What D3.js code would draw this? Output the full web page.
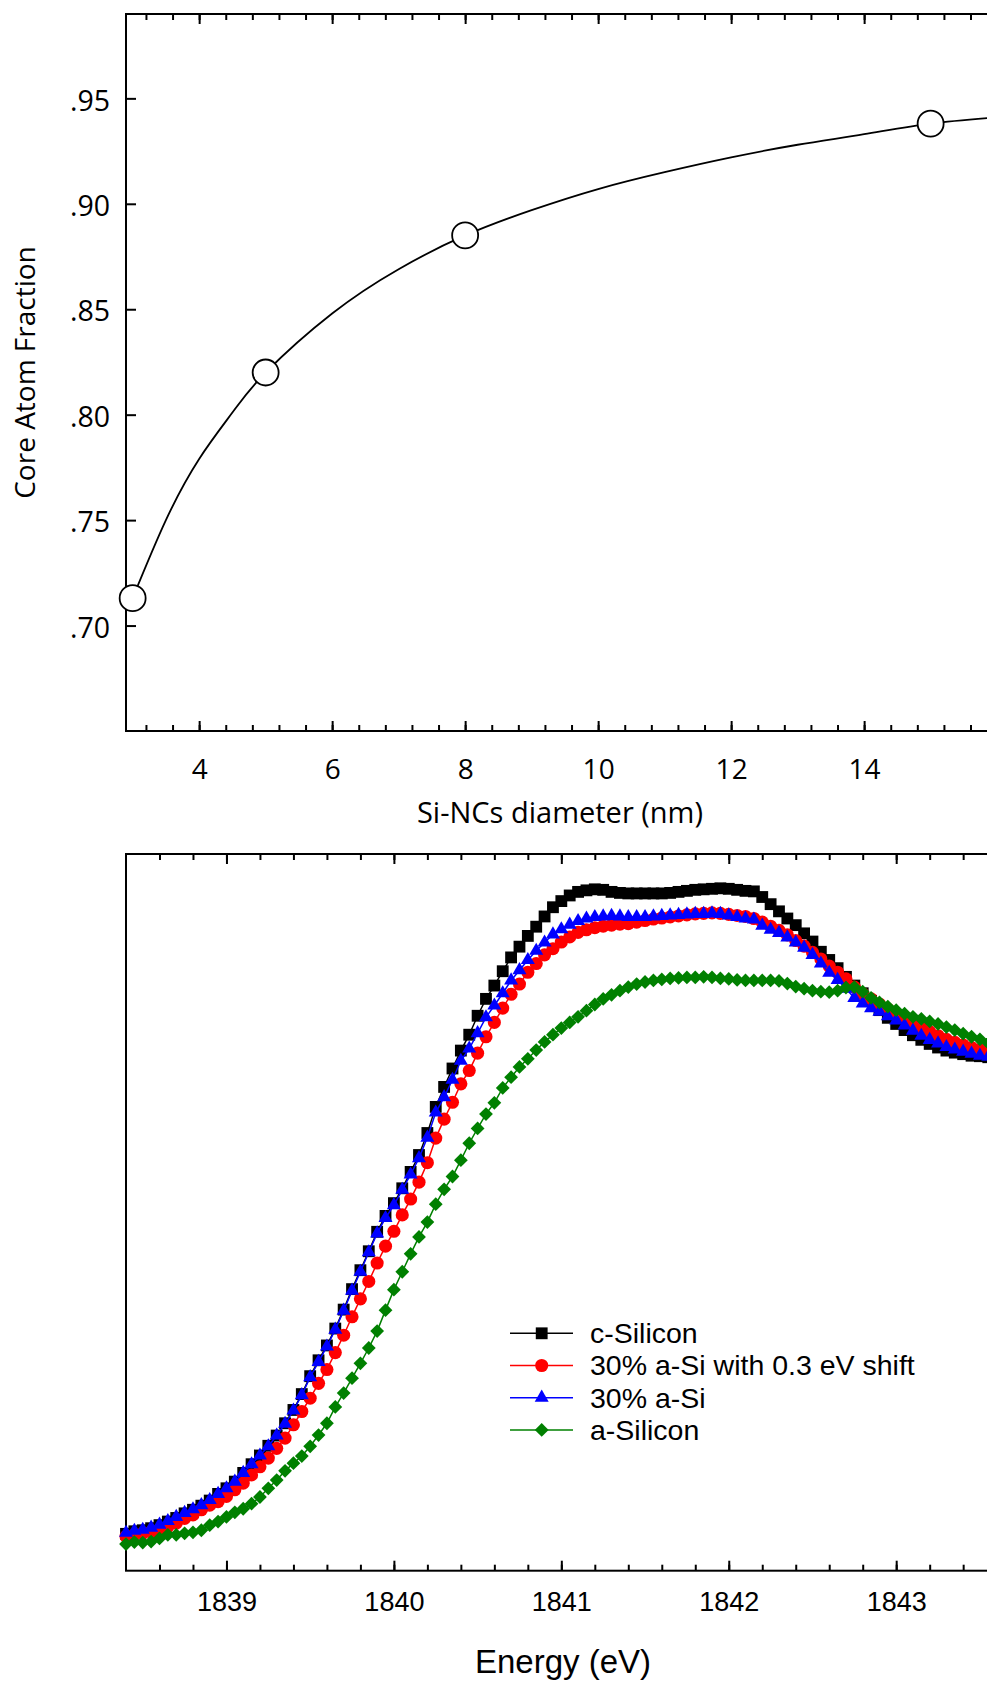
<!DOCTYPE html>
<html>
<head>
<meta charset="utf-8">
<script src="https://cdn.jsdelivr.net/npm/d3@7"></script>
<style>
    body { margin: 0; background: #fff; }
    svg { display: block; }
</style>
</head>
<body>
<div id="chart"></div>
<script>
// ---- top panel: core atom fraction vs nanocrystal size ----
var diameters = [3, 5, 8, 15];
var coreFraction = [0.713, 0.820, 0.885, 0.938];

// fitted curve
var fitDiameters = [3, 3.5, 4, 4.5, 5, 6, 7, 8, 9, 10, 11, 12, 13, 14, 15, 16];
var fitFraction = [0.713, 0.750, 0.779, 0.801, 0.820, 0.848, 0.869, 0.885,
                   0.897, 0.907, 0.915, 0.922, 0.928, 0.933, 0.938, 0.941];

var diameterTicks = [4, 6, 8, 10, 12, 14];
var fractionTicks = [0.70, 0.75, 0.80, 0.85, 0.90, 0.95];

// ---- bottom panel: Si K-edge spectra ----
var energy = [
    1838.40, 1838.45, 1838.50, 1838.55, 1838.60, 1838.65, 1838.70, 1838.75, 1838.80, 1838.85,
    1838.90, 1838.95, 1839.00, 1839.05, 1839.10, 1839.15, 1839.20, 1839.25, 1839.30, 1839.35,
    1839.40, 1839.45, 1839.50, 1839.55, 1839.60, 1839.65, 1839.70, 1839.75, 1839.80, 1839.85,
    1839.90, 1839.95, 1840.00, 1840.05, 1840.10, 1840.15, 1840.20, 1840.25, 1840.30, 1840.35,
    1840.40, 1840.45, 1840.50, 1840.55, 1840.60, 1840.65, 1840.70, 1840.75, 1840.80, 1840.85,
    1840.90, 1840.95, 1841.00, 1841.05, 1841.10, 1841.15, 1841.20, 1841.25, 1841.30, 1841.35,
    1841.40, 1841.45, 1841.50, 1841.55, 1841.60, 1841.65, 1841.70, 1841.75, 1841.80, 1841.85,
    1841.90, 1841.95, 1842.00, 1842.05, 1842.10, 1842.15, 1842.20, 1842.25, 1842.30, 1842.35,
    1842.40, 1842.45, 1842.50, 1842.55, 1842.60, 1842.65, 1842.70, 1842.75, 1842.80, 1842.85,
    1842.90, 1842.95, 1843.00, 1843.05, 1843.10, 1843.15, 1843.20, 1843.25, 1843.30, 1843.35,
    1843.40, 1843.45, 1843.50, 1843.55, 1843.60
];

var cSilicon = [
    0.072, 0.077, 0.079, 0.083, 0.089, 0.096, 0.103, 0.112, 0.119, 0.127,
    0.137, 0.150, 0.161, 0.174, 0.191, 0.208, 0.225, 0.244, 0.264, 0.288,
    0.314, 0.345, 0.380, 0.411, 0.440, 0.473, 0.510, 0.550, 0.587, 0.624,
    0.662, 0.693, 0.718, 0.747, 0.779, 0.812, 0.855, 0.906, 0.945, 0.981,
    1.016, 1.047, 1.084, 1.117, 1.143, 1.171, 1.198, 1.219, 1.240, 1.258,
    1.278, 1.296, 1.308, 1.319, 1.326, 1.329, 1.331, 1.330, 1.326, 1.324,
    1.323, 1.323, 1.323, 1.323, 1.323, 1.324, 1.326, 1.328, 1.330, 1.331,
    1.332, 1.333, 1.332, 1.330, 1.328, 1.327, 1.316, 1.302, 1.288, 1.274,
    1.261, 1.245, 1.229, 1.209, 1.193, 1.177, 1.160, 1.143, 1.128, 1.113,
    1.095, 1.080, 1.068, 1.056, 1.046, 1.037, 1.029, 1.022, 1.016, 1.012,
    1.009, 1.006, 1.005, 1.003, 1.002
];

var aSiShifted = [
    0.067, 0.070, 0.073, 0.076, 0.080, 0.086, 0.093, 0.102, 0.109, 0.119,
    0.128, 0.135, 0.145, 0.158, 0.171, 0.187, 0.203, 0.220, 0.239, 0.259,
    0.285, 0.311, 0.337, 0.366, 0.393, 0.426, 0.460, 0.496, 0.531, 0.565,
    0.601, 0.634, 0.663, 0.695, 0.726, 0.759, 0.797, 0.845, 0.882, 0.915,
    0.951, 0.977, 1.011, 1.043, 1.071, 1.099, 1.126, 1.146, 1.169, 1.186,
    1.203, 1.215, 1.228, 1.238, 1.247, 1.252, 1.256, 1.259, 1.261, 1.263,
    1.264, 1.267, 1.270, 1.273, 1.275, 1.277, 1.279, 1.281, 1.283, 1.284,
    1.285, 1.284, 1.282, 1.280, 1.278, 1.274, 1.267, 1.259, 1.251, 1.242,
    1.231, 1.220, 1.208, 1.195, 1.181, 1.169, 1.156, 1.140, 1.127, 1.117,
    1.107, 1.097, 1.088, 1.079, 1.070, 1.061, 1.053, 1.045, 1.038, 1.032,
    1.027, 1.022, 1.018, 1.014, 1.012
];

var aSi30 = [
    0.074, 0.078, 0.080, 0.084, 0.090, 0.097, 0.105, 0.113, 0.120, 0.128,
    0.138, 0.150, 0.161, 0.174, 0.191, 0.208, 0.225, 0.243, 0.264, 0.287,
    0.313, 0.343, 0.378, 0.408, 0.438, 0.471, 0.508, 0.547, 0.584, 0.622,
    0.659, 0.689, 0.714, 0.744, 0.774, 0.806, 0.846, 0.895, 0.925, 0.959,
    0.996, 1.020, 1.050, 1.081, 1.104, 1.128, 1.153, 1.173, 1.193, 1.211,
    1.227, 1.243, 1.253, 1.262, 1.269, 1.274, 1.277, 1.278, 1.279, 1.278,
    1.277, 1.277, 1.277, 1.278, 1.279, 1.280, 1.281, 1.282, 1.283, 1.283,
    1.284, 1.283, 1.280, 1.277, 1.274, 1.272, 1.260, 1.252, 1.246, 1.237,
    1.227, 1.217, 1.203, 1.186, 1.168, 1.154, 1.137, 1.119, 1.108, 1.099,
    1.092, 1.083, 1.075, 1.065, 1.055, 1.045, 1.037, 1.030, 1.023, 1.018,
    1.014, 1.010, 1.006, 1.004, 1.003
];

var aSilicon = [
    0.052, 0.056, 0.055, 0.057, 0.063, 0.070, 0.070, 0.073, 0.075, 0.079,
    0.089, 0.096, 0.105, 0.114, 0.121, 0.131, 0.144, 0.161, 0.177, 0.195,
    0.210, 0.224, 0.243, 0.265, 0.288, 0.320, 0.347, 0.376, 0.405, 0.435,
    0.468, 0.509, 0.549, 0.584, 0.619, 0.652, 0.681, 0.716, 0.745, 0.770,
    0.802, 0.835, 0.864, 0.892, 0.914, 0.943, 0.964, 0.984, 1.000, 1.017,
    1.033, 1.047, 1.060, 1.071, 1.082, 1.094, 1.106, 1.117, 1.125, 1.133,
    1.140, 1.146, 1.150, 1.153, 1.155, 1.157, 1.158, 1.159, 1.159, 1.160,
    1.159, 1.157, 1.156, 1.154, 1.153, 1.153, 1.153, 1.153, 1.152, 1.147,
    1.141, 1.137, 1.133, 1.131, 1.130, 1.133, 1.139, 1.140, 1.131, 1.119,
    1.110, 1.102, 1.095, 1.088, 1.082, 1.078, 1.073, 1.068, 1.062, 1.056,
    1.049, 1.043, 1.038, 1.031, 1.027
];

var seriesNames = ["c-Silicon", "30% a-Si with 0.3 eV shift", "30% a-Si", "a-Silicon"];
var energyTicks = [1839, 1840, 1841, 1842, 1843];

window.onload = function() {
    var svg = d3.select("#chart")
                .append("svg")
                .attr("width", 987)
                .attr("height", 1681);

    coreChart(svg);
    spectraChart(svg);
};

// strip d3 axis defaults so the text and tick style can be set per panel
function styleAxis(sel, font, size) {
    sel.select(".domain").remove();
    sel.attr("font-family", font).attr("font-size", size);
    sel.selectAll(".tick line").attr("stroke", "#000").attr("stroke-width", 2);
    sel.selectAll(".tick text").attr("fill", "#000");
}

function drawFrame(g, x, y) {
    g.append("rect")
     .attr("x", x.range()[0])
     .attr("y", y.range()[1])
     .attr("width", x.range()[1] - x.range()[0])
     .attr("height", y.range()[0] - y.range()[1])
     .attr("fill", "none")
     .attr("stroke", "#000")
     .attr("stroke-width", 2);
}

function coreChart(svg) {
    var font = "'Open Sans', sans-serif";
    var x = d3.scaleLinear().domain([2.9, 15.95]).range([126, 993.8]);
    var y = d3.scaleLinear().domain([0.65, 0.99]).range([731, 14]);
    var g = svg.append("g");

    var minor = d3.range(3.2, 15.95, 0.4);

    // bottom axis, ticks pointing in
    g.append("g")
     .attr("transform", "translate(0," + y.range()[0] + ")")
     .call(d3.axisBottom(x).tickValues(minor).tickSize(-6).tickFormat(""))
     .call(styleAxis, font, 28);
    g.append("g")
     .attr("transform", "translate(0," + y.range()[0] + ")")
     .call(d3.axisBottom(x).tickValues(diameterTicks).tickSize(-10).tickPadding(28).tickFormat(d3.format("d")))
     .call(styleAxis, font, 28);

    // top axis mirrors the bottom one
    g.append("g")
     .attr("transform", "translate(0," + y.range()[1] + ")")
     .call(d3.axisTop(x).tickValues(minor).tickSize(-6).tickFormat(""))
     .call(styleAxis, font, 28);
    g.append("g")
     .attr("transform", "translate(0," + y.range()[1] + ")")
     .call(d3.axisTop(x).tickValues(diameterTicks).tickSize(-10).tickFormat(""))
     .call(styleAxis, font, 28);

    // left axis with ".95" style labels
    var yAxis = g.append("g")
     .attr("transform", "translate(" + x.range()[0] + ",0)")
     .call(d3.axisLeft(y).tickValues(fractionTicks).tickSize(-10).tickPadding(16)
             .tickFormat(function(d) { return d3.format(".2f")(d).replace(/^0/, ""); }))
     .call(styleAxis, font, 28.5);
    yAxis.selectAll(".tick text").attr("dy", "0.41em");

    drawFrame(g, x, y);

    // fitted curve
    var fit = fitDiameters.map(function(d, i) { return [d, fitFraction[i]]; });
    var line = d3.line()
                 .x(function(d) { return x(d[0]); })
                 .y(function(d) { return y(d[1]); })
                 .curve(d3.curveNatural);
    g.append("path")
     .datum(fit)
     .attr("d", line)
     .attr("fill", "none")
     .attr("stroke", "#000")
     .attr("stroke-width", 1.8);

    // measured points as open circles
    g.selectAll("circle.pt")
     .data(diameters)
     .enter()
     .append("circle")
     .attr("class", "pt")
     .attr("cx", function(d) { return x(d); })
     .attr("cy", function(d, i) { return y(coreFraction[i]); })
     .attr("r", 13)
     .attr("fill", "#fff")
     .attr("stroke", "#000")
     .attr("stroke-width", 1.8);

    // axis titles
    g.append("text")
     .attr("x", 560)
     .attr("y", 823)
     .attr("text-anchor", "middle")
     .attr("font-family", font)
     .attr("font-size", 29)
     .text("Si-NCs diameter (nm)");

    g.append("text")
     .attr("transform", "translate(35," + (y.range()[0] + y.range()[1]) / 2 + ") rotate(-90)")
     .attr("text-anchor", "middle")
     .attr("font-family", font)
     .attr("font-size", 28)
     .text("Core Atom Fraction");
}

function spectraChart(svg) {
    var font = "'Liberation Sans', Arial, sans-serif";
    var x = d3.scaleLinear().domain([1838.4, 1843.62]).range([126, 1000]);
    var y = d3.scaleLinear().domain([0, 1.4]).range([1570.7, 854]);
    var g = svg.append("g");

    var minor = d3.range(1838.6, 1843.7, 0.2);

    g.append("g")
     .attr("transform", "translate(0," + y.range()[0] + ")")
     .call(d3.axisBottom(x).tickValues(minor).tickSize(-6).tickFormat(""))
     .call(styleAxis, font, 27);
    g.append("g")
     .attr("transform", "translate(0," + y.range()[0] + ")")
     .call(d3.axisBottom(x).tickValues(energyTicks).tickSize(-10).tickPadding(21).tickFormat(d3.format("d")))
     .call(styleAxis, font, 27);
    g.append("g")
     .attr("transform", "translate(0," + y.range()[1] + ")")
     .call(d3.axisTop(x).tickValues(minor).tickSize(-6).tickFormat(""))
     .call(styleAxis, font, 27);
    g.append("g")
     .attr("transform", "translate(0," + y.range()[1] + ")")
     .call(d3.axisTop(x).tickValues(energyTicks).tickSize(-10).tickFormat(""))
     .call(styleAxis, font, 27);

    drawFrame(g, x, y);

    var series = [
        { name: seriesNames[0], values: cSilicon,   color: "#000000", shape: "square" },
        { name: seriesNames[1], values: aSiShifted, color: "#ff0000", shape: "circle" },
        { name: seriesNames[2], values: aSi30,      color: "#0000ff", shape: "triangle" },
        { name: seriesNames[3], values: aSilicon,   color: "#008000", shape: "diamond" }
    ];

    var line = d3.line()
                 .x(function(d) { return x(d[0]); })
                 .y(function(d) { return y(d[1]); });

    series.forEach(function(s) {
        var pts = energy.map(function(e, i) { return [e, s.values[i]]; });
        var sg = g.append("g");
        sg.append("path")
          .datum(pts)
          .attr("d", line)
          .attr("fill", "none")
          .attr("stroke", s.color)
          .attr("stroke-width", 1.5);
        sg.selectAll("path.mk")
          .data(pts)
          .enter()
          .append("path")
          .attr("class", "mk")
          .attr("d", markerPath(s.shape))
          .attr("transform", function(d) {
              return "translate(" + x(d[0]) + "," + y(d[1]) + ")" + (s.shape === "diamond" ? " rotate(45)" : "");
          })
          .attr("fill", s.color);
    });

    // legend
    var legend = g.append("g").attr("font-family", font).attr("font-size", 28.5);
    series.forEach(function(s, i) {
        var ly = 1333.3 + i * 32.2;
        legend.append("line")
              .attr("x1", 510).attr("x2", 573)
              .attr("y1", ly).attr("y2", ly)
              .attr("stroke", s.color)
              .attr("stroke-width", 1.5);
        legend.append("path")
              .attr("d", markerPath(s.shape))
              .attr("transform", "translate(541.7," + ly + ")" + (s.shape === "diamond" ? " rotate(45)" : ""))
              .attr("fill", s.color);
        legend.append("text")
              .attr("x", 590)
              .attr("y", ly)
              .attr("dy", "0.35em")
              .attr("fill", "#000")
              .text(s.name);
    });

    g.append("text")
     .attr("x", 563)
     .attr("y", 1672.7)
     .attr("text-anchor", "middle")
     .attr("font-family", font)
     .attr("font-size", 33)
     .text("Energy (eV)");
}

function markerPath(shape) {
    if (shape === "square") return d3.symbol().type(d3.symbolSquare).size(140)();
    if (shape === "circle") return d3.symbol().type(d3.symbolCircle).size(135)();
    if (shape === "triangle") return d3.symbol().type(d3.symbolTriangle).size(85)();
    return d3.symbol().type(d3.symbolSquare).size(95)();
}
</script>
</body>
</html>
